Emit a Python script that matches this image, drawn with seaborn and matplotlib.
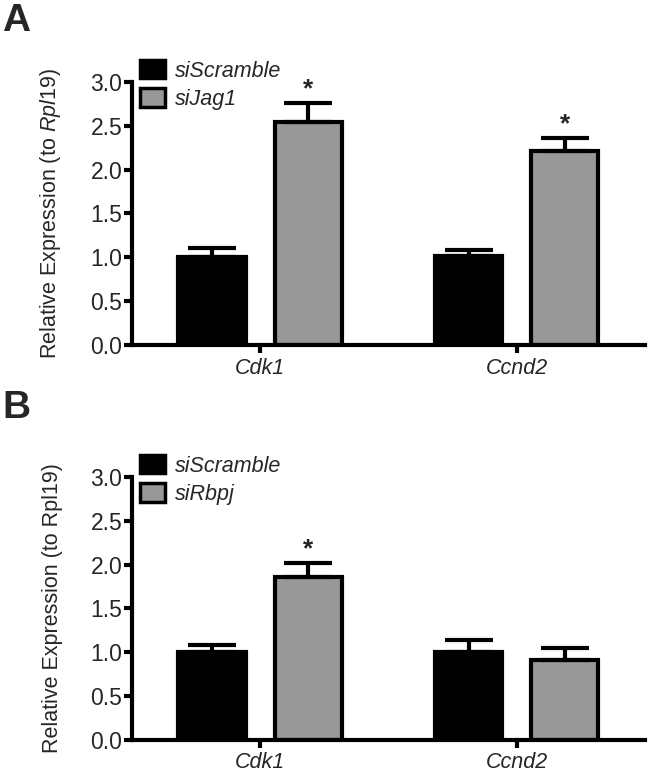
import numpy as np
import pandas as pd
import seaborn as sns
import matplotlib.pyplot as plt
from matplotlib.patches import Patch

sns.set_theme(style="white")
plt.rcParams['font.family'] = ['Liberation Sans', 'DejaVu Sans']
plt.rcParams['mathtext.fontset'] = 'custom'
plt.rcParams['mathtext.rm'] = 'Liberation Sans'
plt.rcParams['mathtext.it'] = 'Liberation Sans:italic'

# dane
genes = ['Cdk1', 'Ccnd2']

a_groups = ['siScramble', 'siJag1']
a_scramble_mean = [1.00, 1.01]
a_scramble_sem = [0.11, 0.07]
a_jag1_mean = [2.54, 2.21]
a_jag1_sem = [0.22, 0.15]
a_sig = [True, True]

b_groups = ['siScramble', 'siRbpj']
b_scramble_mean = [1.00, 1.00]
b_scramble_sem = [0.08, 0.14]
b_rbpj_mean = [1.86, 0.91]
b_rbpj_sem = [0.16, 0.14]
b_sig = [True, False]

colors = ['#000000', '#989898']
FS = 15.5


def panel(ax, groups, ctrl_mean, ctrl_sem, trt_mean, trt_sem, sig, ylabel):
    df = pd.DataFrame({
        'gene': genes * 2,
        'group': [groups[0]] * 2 + [groups[1]] * 2,
        'value': ctrl_mean + trt_mean,
    })
    sns.barplot(data=df, x='gene', y='value', hue='group', order=genes, hue_order=groups,
                palette=colors, width=0.75, gap=0.3, errorbar=None,
                edgecolor='black', linewidth=3, ax=ax)
    sems = ctrl_sem + trt_sem
    means = ctrl_mean + trt_mean
    stars = [False, False] + sig
    # slupki bledow tylko w gore
    for p, m, s, st in zip(ax.patches[:4], means, sems, stars):
        xc = p.get_x() + p.get_width() / 2
        ax.errorbar(xc, m, yerr=[[0], [s]], fmt='none', ecolor='black',
                    elinewidth=3, capsize=17, capthick=3, zorder=1)
        if st:
            ax.text(xc, m + s + 0.02, '*', ha='center', va='bottom', fontsize=19, fontweight='bold')
    ax.set_xlim(-0.5, 1.5)
    ax.set_ylim(0, 3.0)
    ax.set_yticks(np.arange(0, 3.01, 0.5))
    ax.set_yticklabels([f'{v:.1f}' for v in np.arange(0, 3.01, 0.5)], fontsize=FS + 1)
    ax.set_xticks([0, 1])
    ax.set_xticklabels(genes, fontsize=FS, style='italic')
    ax.set_xlabel('')
    ax.set_ylabel(ylabel, fontsize=FS)
    ax.yaxis.set_label_coords(-0.135, 0.5)
    for sp in ['top', 'right']:
        ax.spines[sp].set_visible(False)
    for sp in ['left', 'bottom']:
        ax.spines[sp].set_linewidth(3)
        ax.spines[sp].set_color('black')
    ax.tick_params(axis='y', direction='out', length=6, width=3, color='black', pad=1, left=True)
    ax.tick_params(axis='x', direction='out', length=6, width=3, color='black', pad=3, bottom=True)
    handles = [Patch(facecolor=c, edgecolor='black', linewidth=2.5) for c in colors]
    ax.legend(handles, groups, loc='upper left', bbox_to_anchor=(0.016, 1.084), frameon=False,
              prop={'style': 'italic', 'size': FS}, handlelength=1.15, handleheight=0.95,
              handletextpad=0.45, labelspacing=0.3, borderaxespad=0, borderpad=0)


fig = plt.figure(figsize=(6.5, 7.76), dpi=100)
ax_a = fig.add_axes([0.203, 0.5554, 0.789, 0.339])
ax_b = fig.add_axes([0.203, 0.0464, 0.789, 0.339])

panel(ax_a, a_groups, a_scramble_mean, a_scramble_sem, a_jag1_mean, a_jag1_sem, a_sig,
      r'Relative Expression (to $\mathit{Rpl19}$)')
panel(ax_b, b_groups, b_scramble_mean, b_scramble_sem, b_rbpj_mean, b_rbpj_sem, b_sig,
      'Relative Expression (to Rpl19)')

fig.text(0.003, 0.996, 'A', fontsize=28, fontweight='bold', va='top', ha='left')
fig.text(0.003, 0.498, 'B', fontsize=28, fontweight='bold', va='top', ha='left')

fig.savefig('out.png', dpi=100)
